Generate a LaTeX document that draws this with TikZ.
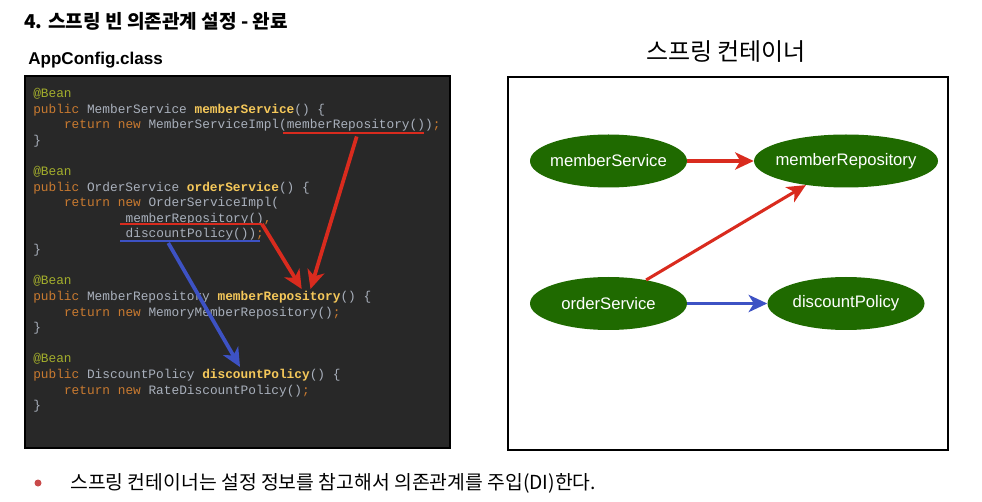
\documentclass[tikz,border=0pt]{standalone}
\usepackage{fontspec}
\setmainfont{Liberation Sans}
\newfontfamily\kr{Noto Sans CJK KR}
\newfontfamily\codefont{Liberation Mono}
\usetikzlibrary{shapes.geometric,arrows.meta,positioning}

\definecolor{codebg}{HTML}{282828}
\definecolor{codegray}{HTML}{A9B0BC}
\definecolor{annot}{HTML}{A3AE2C}
\definecolor{keyword}{HTML}{C97A30}
\definecolor{method}{HTML}{F5C85A}
\definecolor{arrowred}{HTML}{D92B1E}
\definecolor{arrowblue}{HTML}{3D52C4}
\definecolor{beangreen}{HTML}{1F6A00}
\definecolor{bulletred}{HTML}{C94A4A}

\newcommand\an[1]{\textcolor{annot}{#1}}
\newcommand\kw[1]{\textcolor{keyword}{#1}}
\newcommand\fn[1]{\textcolor{method}{\bfseries #1}}

\tikzset{
    codeline/.style={anchor=base west, inner sep=0pt, text=codegray,
        font=\codefont\fontsize{9.6}{11}\selectfont},
    bean/.style={ellipse, fill=beangreen, text=white, inner xsep=-6pt, inner ysep=-3pt,
        minimum height=39.75pt, font=\fontsize{12.5}{15}\selectfont},
    underline/.style={line width=1.5pt},
    callarrow/.style={line width=2.8pt, -{Stealth[length=14pt,width=13pt,inset=4pt]}},
    deparrow/.style={line width=2.3pt, -{Stealth[length=14pt,width=13pt,inset=4pt]}}
}

\begin{document}
\begin{tikzpicture}[x=0.75pt, y=-0.75pt]

    \useasboundingbox (0,0) rectangle (982,502);

    % Titles
    \node[anchor=base west, inner sep=0pt, font=\kr\bfseries\fontsize{14.3}{17}\selectfont]
        (title) at (24,28.5) {4. 스프링 빈 의존관계 설정 - 완료};
    \node[anchor=base west, inner sep=0pt, font=\bfseries\fontsize{12.8}{15}\selectfont]
        (appconfig) at (28,65) {AppConfig.class};
    \node[anchor=base, inner sep=0pt, font=\kr\fontsize{18}{21}\selectfont]
        (containertitle) at (726,61) {스프링 컨테이너};

    % Code panel
    \draw[fill=codebg, draw=black, line width=1.5pt] (25,76) rectangle (450,448);

    \node[codeline] (bean1) at (33,97.8)    {\an{@Bean}};
    \node[codeline] (sig1)  at (33,113.4)   {\kw{public} MemberService \fn{memberService}() \{};
    \node[codeline] (ret1)  at (63.8,129.0) {\kw{return new} MemberServiceImpl(memberRepository())\kw{;}};
    \node[codeline] (end1)  at (33,144.6)   {\}};

    \node[codeline] (bean2) at (33,175.8)    {\an{@Bean}};
    \node[codeline] (sig2)  at (33,191.4)    {\kw{public} OrderService \fn{orderService}() \{};
    \node[codeline] (ret2)  at (63.8,207.0)  {\kw{return new} OrderServiceImpl(};
    \node[codeline] (arg1)  at (125.4,222.3) {memberRepository()\kw{,}};
    \node[codeline] (arg2)  at (125.4,237.9) {discountPolicy())\kw{;}};
    \node[codeline] (end2)  at (33,253.8)    {\}};

    \node[codeline] (bean3) at (33,285.0)   {\an{@Bean}};
    \node[codeline] (sig3)  at (33,300.6)   {\kw{public} MemberRepository \fn{memberRepository}() \{};
    \node[codeline] (ret3)  at (63.8,316.2) {\kw{return new} MemoryMemberRepository()\kw{;}};
    \node[codeline] (end3)  at (33,331.8)   {\}};

    \node[codeline] (bean4) at (33,363.0)   {\an{@Bean}};
    \node[codeline] (sig4)  at (33,378.6)   {\kw{public} DiscountPolicy \fn{discountPolicy}() \{};
    \node[codeline] (ret4)  at (63.8,394.2) {\kw{return new} RateDiscountPolicy()\kw{;}};
    \node[codeline] (end4)  at (33,409.8)   {\}};

    % Underlined calls
    \coordinate (call1a) at (283,133.3);
    \coordinate (call1b) at (424,133.3);
    \coordinate (call2a) at (120,224);
    \coordinate (call2b) at (262,224);
    \coordinate (call3a) at (120,241.5);
    \coordinate (call3b) at (260,241.5);
    \draw[underline, arrowred] (call1a) -- (call1b);
    \draw[underline, arrowred] (call2a) -- (call2b);
    \draw[underline, arrowblue] (call3a) -- (call3b);

    % Calls to the bean methods
    \coordinate (from1) at (356.7,136.5);
    \coordinate (from3) at (168.3,243);
    \coordinate (repotip1) at (301.7,289);
    \coordinate (repotip2) at (310.5,289);
    \coordinate (policytip) at (240,367);
    \draw[callarrow, arrowred] (call2b) -- (repotip1);
    \draw[callarrow, arrowred] (from1) -- (repotip2);
    \draw[callarrow, arrowblue] (from3) -- (policytip);

    % Spring container
    \draw[draw=black, line width=1.5pt] (507.5,77.5) rectangle (947.5,450);

    \node[bean, minimum width=117.75pt] (memberService) at (608.5,161) {memberService};
    \node[bean, minimum width=138pt] (memberRepository) at (846,161) {memberRepository};
    \node[bean, minimum width=117.75pt] (orderService) at (608.5,303.5) {orderService};
    \node[bean, minimum width=117.75pt] (discountPolicy) at (846,303.5) {discountPolicy};

    \draw[deparrow, arrowred] (memberService.east) -- (memberRepository.west);
    \draw[deparrow, arrowred] (orderService.32) -- (memberRepository.211);
    \draw[deparrow, arrowblue] (orderService.east) -- (discountPolicy.west);

    % Bullet
    \node[circle, fill=bulletred, inner sep=0pt, minimum size=5.25pt] (dot) at (38,483) {};
    \node[anchor=base west, inner sep=0pt, font=\kr\fontsize{14.5}{17}\selectfont]
        (note) at (70,489.5) {스프링 컨테이너는 설정 정보를 참고해서 의존관계를 주입(DI)한다.};

\end{tikzpicture}
\end{document}
